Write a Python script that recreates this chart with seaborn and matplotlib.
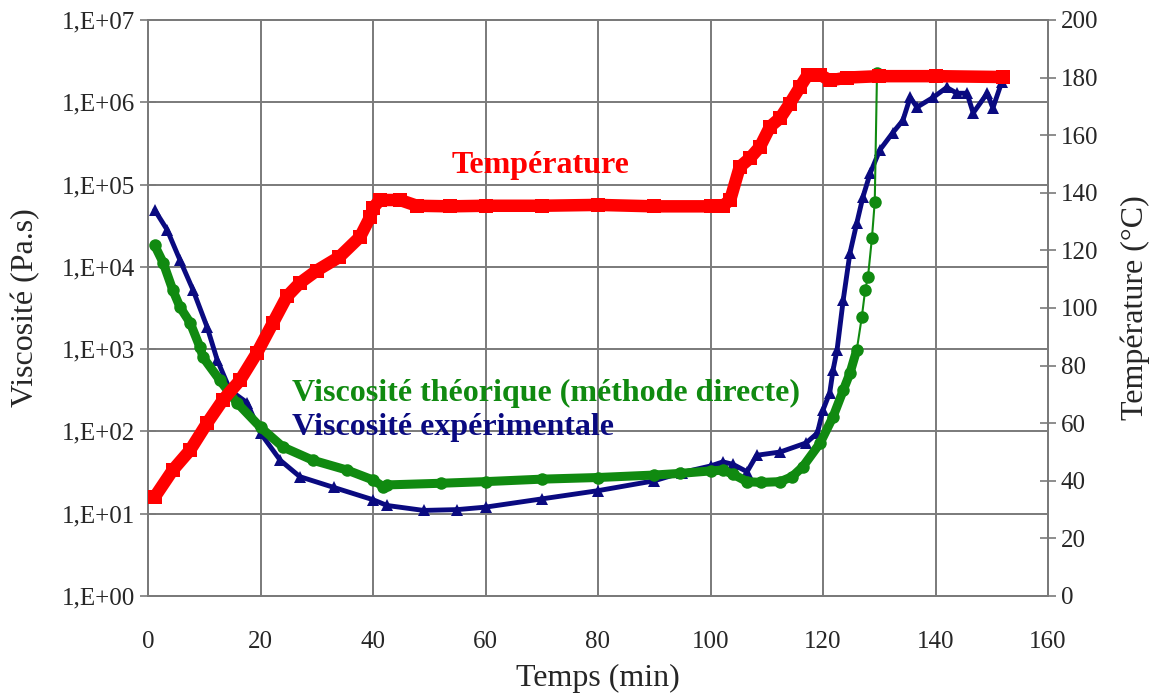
import numpy as np
import pandas as pd
import seaborn as sns
import matplotlib
matplotlib.use('Agg')
from matplotlib import pyplot as plt
from matplotlib.ticker import FixedLocator, NullLocator

# Température (°C) en fonction du temps (min)
temp_t = [1.2, 4.4, 7.5, 10.5, 13.3, 16.4, 19.4, 22.2, 24.7, 27.0, 30.0, 34.0, 37.7,
          39.5, 40.0, 41.2, 44.8, 47.8, 53.7, 60, 70, 80, 90, 100, 102.2, 103.5,
          105.2, 107.0, 108.8, 110.6, 112.4, 114.1, 115.9, 117.3, 119.5, 121.2,
          124.2, 130, 140, 152]
temp_val = [34.4, 43.7, 50.7, 60.0, 68.0, 75.0, 84.5, 94.8, 104.0, 108.7, 113.0,
            117.7, 124.7, 131.6, 134.7, 137.5, 137.5, 135.5, 135.3, 135.5, 135.5,
            135.8, 135.3, 135.3, 135.5, 137.5, 149, 152, 156, 163, 166, 171, 176.7,
            181, 181, 179, 180, 180.5, 180.5, 180.2]

# Viscosité expérimentale, log10(Pa.s)
exp_t = [1.2, 3.4, 5.7, 8.0, 10.5, 12.3, 14.6, 17.6, 20.0, 23.5, 27.0, 33.0, 40.0,
         42.5, 49.0, 55, 60, 70, 80, 90, 94.9, 100, 102.2, 104, 106.5, 108.2, 112.4,
         117.0, 119.0, 120.0, 121.2, 121.8, 122.5, 123.6, 124.8, 126.0, 127.1, 128.4,
         130.1, 132.4, 134.2, 135.5, 136.7, 139.6, 142.0, 143.8, 145.6, 146.7, 149.2,
         150.2, 151.8]
exp_log = [4.69, 4.45, 4.08, 3.72, 3.27, 2.87, 2.5, 2.35, 1.98, 1.65, 1.45, 1.32, 1.17,
           1.10, 1.04, 1.05, 1.08, 1.18, 1.28, 1.40, 1.50, 1.58, 1.63, 1.60, 1.51, 1.71,
           1.75, 1.86, 1.98, 2.26, 2.47, 2.75, 2.99, 3.6, 4.17, 4.53, 4.85, 5.14, 5.42,
           5.63, 5.78, 6.06, 5.94, 6.06, 6.18, 6.11, 6.11, 5.87, 6.11, 5.93, 6.25]

# Viscosité théorique (méthode directe), log10(Pa.s)
th_t = [1.2, 2.7, 4.4, 5.7, 7.5, 9.2, 9.8, 12.8, 15.8, 20.0, 24.0, 29.3, 35.4, 40.0,
        41.8, 42.5, 52, 60, 70, 80, 90, 94.6, 100, 102.2, 104, 106.5, 109, 112.4,
        114.5, 116.4, 119.5, 121.8, 123.6, 124.8, 126.0, 126.9, 127.5, 128.0, 128.7,
        129.2, 129.6]
th_log = [4.26, 4.05, 3.72, 3.51, 3.32, 3.03, 2.9, 2.62, 2.35, 2.05, 1.81, 1.65, 1.53,
          1.41, 1.33, 1.35, 1.37, 1.39, 1.42, 1.44, 1.47, 1.49, 1.52, 1.53, 1.48, 1.39,
          1.38, 1.39, 1.45, 1.57, 1.86, 2.18, 2.5, 2.71, 2.99, 3.39, 3.72, 3.88, 4.35,
          4.79, 6.35]

visc_ticks = [1e0, 1e1, 1e2, 1e3, 1e4, 1e5, 1e6, 1e7]
visc_ticklabels = ['1,E+00', '1,E+01', '1,E+02', '1,E+03', '1,E+04', '1,E+05',
                   '1,E+06', '1,E+07']
temp_ticks = [0, 20, 40, 60, 80, 100, 120, 140, 160, 180, 200]
time_ticks = [0, 20, 40, 60, 80, 100, 120, 140, 160]

df_temp = pd.DataFrame({'t': temp_t, 'T': temp_val})
df_exp = pd.DataFrame({'t': exp_t, 'v': 10 ** np.array(exp_log)})
df_th = pd.DataFrame({'t': th_t, 'v': 10 ** np.array(th_log)})

sns.set_style('white')
plt.rcParams['font.family'] = ['Liberation Serif', 'DejaVu Serif']

RED = '#ff0000'
GREEN = '#108a10'
NAVY = '#0a0a80'
GRID = '#7a7a7a'

fig, ax = plt.subplots(figsize=(11.53, 6.97), dpi=100)
fig.subplots_adjust(left=148 / 1153, right=1048 / 1153, top=1 - 20 / 697, bottom=1 - 596 / 697)

# courbe expérimentale
sns.lineplot(data=df_exp, x='t', y='v', ax=ax, color=NAVY, linewidth=3.5, marker='^',
             markersize=9, markeredgewidth=0, sort=False, zorder=3)
# courbe théorique : trait épais là où les points sont serrés
dense = df_th[df_th['t'] <= 126]
sns.lineplot(data=dense, x='t', y='v', ax=ax, color=GREEN, linewidth=6.5, sort=False, zorder=4)
sns.lineplot(data=df_th, x='t', y='v', ax=ax, color=GREEN, linewidth=1.5, marker='o',
             markersize=9, markeredgewidth=0, sort=False, zorder=4)

ax.set_yscale('log')
ax.set_ylim(1e0, 1e7)
ax.set_xlim(0, 160)
ax.yaxis.set_major_locator(FixedLocator(visc_ticks))
ax.yaxis.set_minor_locator(NullLocator())
ax.set_yticks(visc_ticks, visc_ticklabels)
ax.set_xticks(time_ticks)
ax.grid(True, color=GRID, linewidth=1.4)
ax.tick_params(axis='y', labelsize=18, direction='inout', length=12, width=1.2,
               color=GRID, pad=3)
ax.tick_params(axis='x', labelsize=18, direction='out', length=7, width=1.2,
               color=GRID, pad=18)
ax.set_xlabel('Temps (min)', fontsize=23)
ax.set_ylabel('Viscosité (Pa.s)', fontsize=23)
ax.xaxis.set_label_coords(0.5, -0.118)
ax.yaxis.set_label_coords(-0.12, 0.5)
for s in ax.spines.values():
    s.set_color(GRID)
    s.set_linewidth(1.4)

# température sur l'axe de droite
ax2 = ax.twinx()
sns.lineplot(data=df_temp, x='t', y='T', ax=ax2, color=RED, linewidth=9, marker='s',
             markersize=10, markeredgewidth=0, sort=False, zorder=5)
ax2.set_ylim(0, 200)
ax2.set_yticks(temp_ticks)
ax2.tick_params(axis='y', labelsize=18, direction='inout', length=12, width=1.2,
                color=GRID, pad=3)
ax2.set_ylabel('Température (°C)', fontsize=23)
ax2.yaxis.set_label_coords(1.08, 0.5)
ax2.grid(False)
for s in ax2.spines.values():
    s.set_color(GRID)
    s.set_linewidth(1.4)

ax2.text(0.436, 0.748, 'Température', transform=ax.transAxes, color=RED,
         fontsize=23, fontweight='bold', ha='center', va='center')
ax2.text(0.16, 0.352, 'Viscosité théorique (méthode directe)', transform=ax.transAxes,
         color=GREEN, fontsize=23, fontweight='bold', ha='left', va='center')
ax2.text(0.16, 0.292, 'Viscosité expérimentale', transform=ax.transAxes,
         color=NAVY, fontsize=23, fontweight='bold', ha='left', va='center')

fig.savefig('out.png', dpi=100)
